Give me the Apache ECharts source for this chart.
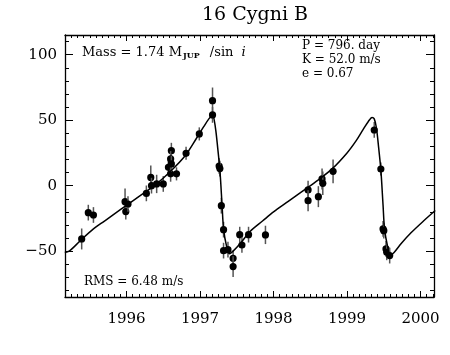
<!DOCTYPE html>
<html><head><meta charset="utf-8">
<script src="https://cdn.jsdelivr.net/npm/echarts@6/dist/echarts.min.js"></script>
<style>html,body{margin:0;padding:0;background:#fff}#c{width:450px;height:355px}</style>
</head><body><div id="c"></div>
<script>
// Observed radial velocities (year, m/s, error m/s)
const obsYear = [1995.39,1995.48,1995.55,1995.98,1995.99,1996.02,1996.27,1996.33,1996.34,1996.41,1996.50,1996.57,1996.60,1996.61,1996.60,1996.61,1996.68,1996.81,1996.99,1997.17,1997.17,1997.26,1997.27,1997.29,1997.32,1997.32,1997.38,1997.45,1997.45,1997.54,1997.57,1997.66,1997.89,1998.47,1998.47,1998.61,1998.66,1998.67,1998.81,1999.37,1999.46,1999.49,1999.50,1999.53,1999.54,1999.58];
const obsVel  = [-40.7,-20.6,-22.4,-12.2,-19.8,-14.0,-5.9,6.3,0.0,1.3,1.3,14.0,9.0,26.7,20.4,16.6,9.0,24.7,39.5,64.9,54.0,15.0,13.0,-15.3,-33.6,-49.6,-48.9,-55.5,-61.8,-37.4,-45.3,-37.4,-37.6,-3.3,-11.5,-8.4,5.1,1.8,10.9,42.5,12.7,-33.0,-34.4,-48.3,-50.9,-53.4];
const obsErr  = [8,6,6,10,6,6,6,9,6,7,6,6,6,6,6,6,5,5,5,10,6,6,6,6,6,6,6,6,8,6,6,6,7,7,8,8,8,9,9,6,5,6,6,6,6,6];

// Orbit fit curve
const fitYear = [1995.16,1995.22,1995.30,1995.39,1995.55,1995.70,1995.85,1996.00,1996.20,1996.40,1996.60,1996.80,1996.95,1997.05,1997.12,1997.17,1997.21,1997.24,1997.27,1997.30,1997.32,1997.36,1997.40,1997.45,1997.55,1997.68,1997.85,1998.00,1998.20,1998.40,1998.60,1998.80,1999.00,1999.12,1999.22,1999.29,1999.34,1999.37,1999.40,1999.43,1999.46,1999.49,1999.51,1999.55,1999.59,1999.64,1999.74,1999.87,2000.04,2000.20];
const fitVel  = [-51,-50,-46,-41,-33,-27,-21,-15,-7,1,11,23,36,45,51,54,44,29,12,-15,-33,-46,-52,-50,-44,-35,-27,-20,-12,-4,4,13,25,34,43,49,52,51,44,29,12,-15,-33,-46,-53,-51,-44,-36,-27,-19];

const xTickLabels = ['1996','1997','1998','1999','2000'];
const yTickLabels = ['−50','0','50','100'];
const titleText = '16 Cygni B';

const FONT = 'DejaVu Serif';
const chart = echarts.init(document.getElementById('c'));

const xBase = {
  type: 'value', min: 1995.163, max: 2000.183, splitNumber: 5,
  axisLine: {onZero: false, lineStyle: {color: '#000', width: 1.3}},
  axisTick: {inside: true, length: 6, lineStyle: {color: '#000', width: 1}},
  minorTick: {show: true, splitNumber: 12, length: 3, lineStyle: {color: '#000', width: 1}},
  splitLine: {show: false}, minorSplitLine: {show: false}
};
const yBase = {
  type: 'value', min: -85, max: 115, splitNumber: 4,
  axisLine: {show: true, onZero: false, lineStyle: {color: '#000', width: 1.3}},
  axisTick: {show: true, inside: true, length: 8, lineStyle: {color: '#000', width: 1}},
  minorTick: {show: true, splitNumber: 5, length: 4, lineStyle: {color: '#000', width: 1}},
  splitLine: {show: false}, minorSplitLine: {show: false}
};

chart.setOption({
  animation: false,
  backgroundColor: '#fff',
  title: {
    text: titleText, left: 255, top: 6, textAlign: 'center', padding: 0,
    textStyle: {fontFamily: FONT, fontSize: 19, fontWeight: 'normal', color: '#000'}
  },
  grid: {left: 65, right: 16, top: 35, bottom: 58},
  xAxis: [
    Object.assign({}, xBase, {
      position: 'bottom',
      axisLabel: {
        margin: 15, fontFamily: FONT, fontSize: 15, color: '#000',
        showMinLabel: false, showMaxLabel: false,
        formatter: v => {
          const k = Math.round(v) - 1996;
          return (Math.abs(v - Math.round(v)) < 1e-6 && k >= 0 && k < xTickLabels.length) ? xTickLabels[k] : '';
        }
      }
    }),
    Object.assign({}, xBase, {position: 'top', axisLabel: {show: false}})
  ],
  yAxis: [
    Object.assign({}, yBase, {
      position: 'left',
      axisLabel: {
        margin: 8, fontFamily: FONT, fontSize: 15, color: '#000',
        showMinLabel: false, showMaxLabel: false,
        formatter: v => {
          const k = Math.round((v + 50) / 50);
          return (Math.abs(v % 50) < 1e-6 && k >= 0 && k < yTickLabels.length) ? yTickLabels[k] : '';
        }
      }
    }),
    Object.assign({}, yBase, {position: 'right', axisLabel: {show: false}})
  ],
  series: [
    {
      type: 'line', xAxisIndex: 0, yAxisIndex: 0,
      data: fitYear.map((x, i) => [x, fitVel[i]]),
      showSymbol: false, smooth: 0.3,
      lineStyle: {color: '#000', width: 1.5}, clip: true
    },
    {
      type: 'custom', xAxisIndex: 0, yAxisIndex: 0,
      data: obsYear.map((x, i) => [x, obsVel[i], obsErr[i]]),
      encode: {x: 0, y: 1},
      renderItem: (params, api) => {
        const x = api.value(0), y = api.value(1), e = api.value(2);
        const p = api.coord([x, y]);
        const lo = api.coord([x, y - e]);
        const hi = api.coord([x, y + e]);
        return {
          type: 'group',
          children: [
            {type: 'line', shape: {x1: p[0], y1: lo[1], x2: p[0], y2: hi[1]}, style: {stroke: '#555', lineWidth: 1.5}},
            {type: 'circle', shape: {cx: p[0], cy: p[1], r: 3.6}, style: {fill: '#000'}}
          ]
        };
      }
    }
  ],
  graphic: [
    {type: 'text', left: 82, top: 46, style: {
      text: 'Mass = 1.74 M{sub|JUP} /sin {it|i}',
      fontFamily: FONT, fontSize: 13, fill: '#000',
      rich: {
        sub: {fontFamily: FONT, fontSize: 8, fontWeight: 'bold', verticalAlign: 'bottom', padding: [6, 6, 0, 1]},
        it: {fontFamily: FONT, fontSize: 13, fontStyle: 'italic', padding: [0, 0, 0, 4]}
      }
    }},
    {type: 'text', left: 302, top: 40, style: {text: 'P = 796. day', fontFamily: FONT, fontSize: 12, fill: '#000'}},
    {type: 'text', left: 302, top: 54, style: {text: 'K = 52.0 m/s', fontFamily: FONT, fontSize: 12, fill: '#000'}},
    {type: 'text', left: 302, top: 68, style: {text: 'e = 0.67', fontFamily: FONT, fontSize: 12, fill: '#000'}},
    {type: 'text', left: 84, top: 276, style: {text: 'RMS = 6.48 m/s', fontFamily: FONT, fontSize: 12, fill: '#000'}}
  ]
});
</script></body></html>
